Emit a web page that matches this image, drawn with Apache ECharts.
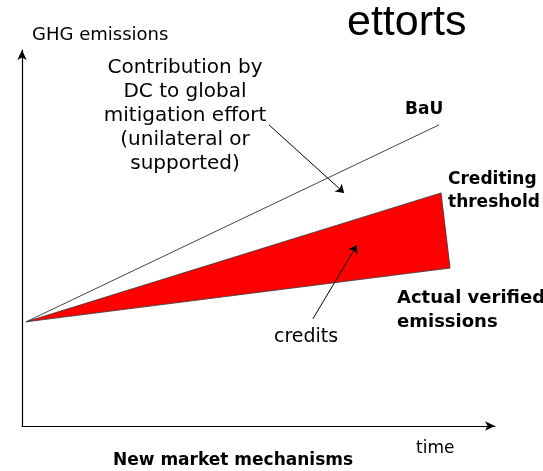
<!DOCTYPE html>
<html>
<head>
<meta charset="utf-8">
<script src="https://cdn.jsdelivr.net/npm/echarts@6/dist/echarts.min.js"></script>
<style>
  html, body { margin: 0; padding: 0; background: #fff; }
  #chart { width: 543px; height: 471px; }
</style>
</head>
<body>
<div id="chart"></div>
<script>
// schematic values, 0-100 on both axes
const bauLine = [[0.85, 27.7], [88.2, 80.1]]
const creditArea = [[0.85, 27.7], [88.6, 62.0], [90.5, 42.0]]
const contributionArrow = [[52.2, 80.1], [68.1, 62.0]]
const creditsArrow = [[61.5, 28.5], [70.8, 48.1]]

const chart = echarts.init(document.getElementById('chart'))

function txt(text, x, y, size, weight, align, lh, family) {
  return {
    type: 'text',
    x: x,
    y: y,
    style: {
      text: text,
      font: (weight || 'normal') + ' ' + size + 'px ' + (family || '"DejaVu Sans", sans-serif'),
      fill: '#000',
      align: align || 'left',
      verticalAlign: 'middle',
      lineHeight: lh || Math.round(size * 1.3)
    }
  }
}

const option = {
  animation: false,
  grid: { left: 22, right: 48, top: 50, bottom: 45 },
  xAxis: {
    type: 'value',
    min: 0,
    max: 100,
    axisLine: { show: true, symbol: ['none', 'arrow'], symbolSize: [7, 10], lineStyle: { color: '#000', width: 1.2 } },
    axisTick: { show: false },
    axisLabel: { show: false },
    splitLine: { show: false }
  },
  yAxis: {
    type: 'value',
    min: 0,
    max: 100,
    axisLine: { show: true, symbol: ['none', 'arrow'], symbolSize: [7, 10], lineStyle: { color: '#000', width: 1.2 } },
    axisTick: { show: false },
    axisLabel: { show: false },
    splitLine: { show: false }
  },
  series: [
    {
      type: 'custom',
      data: creditArea,
      renderItem: function (params, api) {
        if (params.dataIndex !== 0) return
        return {
          type: 'polygon',
          shape: { points: creditArea.map(p => api.coord(p)) },
          style: { fill: '#ff0000', stroke: '#333', lineWidth: 0.8 }
        }
      }
    },
    {
      type: 'line',
      data: bauLine,
      symbol: 'none',
      lineStyle: { color: '#444', width: 1 }
    },
    {
      type: 'lines',
      coordinateSystem: 'cartesian2d',
      symbol: ['none', 'arrow'],
      symbolSize: 8,
      lineStyle: { color: '#000', width: 1, opacity: 1 },
      data: [{ coords: contributionArrow }, { coords: creditsArrow }]
    }
  ],
  graphic: [
    txt('ettorts', 347, 23, 43, 'normal', 'left', 48, '"Liberation Sans", Arial, sans-serif'),
    txt('GHG emissions', 32, 35, 18, 'normal'),
    txt('Contribution by\nDC to global\nmitigation effort\n(unilateral or\nsupported)', 185, 116, 20, 'normal', 'center', 24),
    txt('BaU', 405, 110, 17, 'bold'),
    txt('Crediting\nthreshold', 448, 191, 17, 'bold', 'left', 23),
    txt('Actual verified\nemissions', 397, 310, 18, 'bold', 'left', 24),
    txt('credits', 274, 337, 19, 'normal'),
    txt('time', 416, 449, 17, 'normal'),
    txt('New market mechanisms', 113, 461, 17, 'bold')
  ]
}

chart.setOption(option)
</script>
</body>
</html>
